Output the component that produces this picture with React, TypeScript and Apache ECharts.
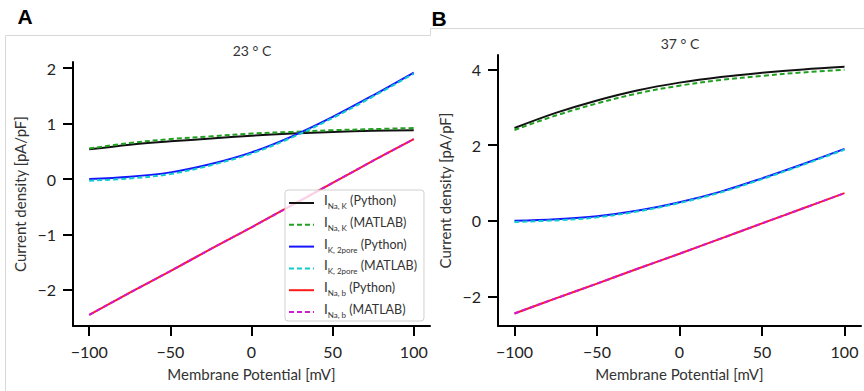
import React, { useEffect, useRef } from "react";
import * as echarts from "echarts";

// Membrane potential sample points [mV]
const xs = [-100, -75, -50, -25, 0, 25, 50, 75, 100];

// Panel A (23 °C)
const naKPyA = [0.535, 0.62, 0.68, 0.73, 0.78, 0.82, 0.85, 0.87, 0.88];
const naKMatA = [0.55, 0.65, 0.72, 0.77, 0.82, 0.85, 0.88, 0.9, 0.92];
const k2pPyA = [0.0, 0.04, 0.12, 0.27, 0.48, 0.77, 1.12, 1.51, 1.92];
const k2pMatA = [-0.03, 0.01, 0.09, 0.25, 0.46, 0.75, 1.1, 1.49, 1.9];
const nabPyA = [-2.45, -2.05, -1.66, -1.26, -0.87, -0.47, -0.07, 0.33, 0.72];
const nabMatA = [-2.45, -2.05, -1.66, -1.26, -0.87, -0.47, -0.07, 0.33, 0.72];

// Panel B (37 °C)
const naKPyB = [2.45, 2.85, 3.18, 3.45, 3.65, 3.8, 3.91, 4.0, 4.07];
const naKMatB = [2.4, 2.78, 3.1, 3.37, 3.57, 3.72, 3.83, 3.92, 3.99];
const k2pPyB = [0.0, 0.04, 0.12, 0.27, 0.49, 0.77, 1.12, 1.5, 1.9];
const k2pMatB = [-0.03, 0.01, 0.09, 0.25, 0.47, 0.75, 1.1, 1.48, 1.88];
const nabPyB = [-2.45, -2.05, -1.66, -1.26, -0.87, -0.47, -0.07, 0.33, 0.73];
const nabMatB = [-2.45, -2.05, -1.66, -1.26, -0.87, -0.47, -0.07, 0.33, 0.73];

// Ticks
const xTicks = [-100, -50, 0, 50, 100];
const yTicksA = [-2, -1, 0, 1, 2];
const yTicksB = [-2, 0, 2, 4];

// Legend entries
const seriesNames = [
  "INaK (Python)",
  "INaK (MATLAB)",
  "IK2pore (Python)",
  "IK2pore (MATLAB)",
  "INab (Python)",
  "INab (MATLAB)",
];
const legendSubs = ["Na, K", "Na, K", "K, 2pore", "K, 2pore", "Na, b", "Na, b"];
const legendSuffix = ["(Python)", "(MATLAB)", "(Python)", "(MATLAB)", "(Python)", "(MATLAB)"];

const colors = ["#111111", "#22a022", "#1515ff", "#10cccc", "#ff1a1a", "#d019d0"];
const dashed = [false, true, false, true, false, true];

const FONT = "Lato, 'Noto Sans', sans-serif";

function buildOption() {
  const dataA = [naKPyA, naKMatA, k2pPyA, k2pMatA, nabPyA, nabMatA];
  const dataB = [naKPyB, naKMatB, k2pPyB, k2pMatB, nabPyB, nabMatB];
  const mk = (vals: number[], i: number, ax: number) => ({
    type: "line",
    name: seriesNames[i],
    xAxisIndex: ax,
    yAxisIndex: ax,
    data: xs.map((x, k) => [x, vals[k]]),
    symbol: "none",
    smooth: 0.35,
    lineStyle: { color: colors[i], width: 2, type: dashed[i] ? [5, 3] : "solid" },
    itemStyle: { color: colors[i] },
    emphasis: { disabled: true },
  });
  const series = [
    ...dataA.map((v, i) => mk(v, i, 0)),
    ...dataB.map((v, i) => mk(v, i, 1)),
  ];

  const axisCommon = {
    type: "value",
    splitLine: { show: false },
    axisLine: { show: true, onZero: false, lineStyle: { color: "#000", width: 2 } },
    axisTick: { show: true, length: 10, lineStyle: { color: "#000", width: 2 } },
    nameTextStyle: { fontFamily: FONT, fontSize: 15, color: "#333" },
  };
  const xAx = (gi: number) => ({
    ...axisCommon,
    gridIndex: gi,
    min: -110,
    max: 110,
    name: "Membrane Potential [mV]",
    nameLocation: "middle",
    nameGap: 40,
    axisTick: { ...axisCommon.axisTick, customValues: xTicks },
    axisLabel: {
      customValues: xTicks,
      fontFamily: FONT,
      fontSize: 16,
      color: "#222",
      margin: 17,
      formatter: (v: number) => (v < 0 ? "\u2212" + Math.abs(v) : String(v)),
    },
  });
  const yAx = (gi: number, min: number, max: number, ticks: number[]) => ({
    ...axisCommon,
    gridIndex: gi,
    min,
    max,
    name: "Current density [pA/pF]",
    nameLocation: "middle",
    nameGap: 46,
    axisTick: { ...axisCommon.axisTick, customValues: ticks },
    axisLabel: {
      customValues: ticks,
      fontFamily: FONT,
      fontSize: 16,
      color: "#222",
      margin: 17,
      formatter: (v: number) => (v < 0 ? "\u2212" + Math.abs(v) : String(v)),
    },
  });

  return {
    animation: false,
    backgroundColor: "#fff",
    grid: [
      { left: 73, top: 62, width: 357, height: 264 },
      { left: 498, top: 55, width: 363, height: 271 },
    ],
    xAxis: [xAx(0), xAx(1)],
    yAxis: [yAx(0, -2.65, 2.11, yTicksA), yAx(1, -2.78, 4.38, yTicksB)],
    legend: {
      show: true,
      data: seriesNames,
      orient: "vertical",
      left: 285,
      top: 190,
      itemWidth: 25,
      itemHeight: 14,
      itemGap: 4.8,
      padding: [3, 7, 2, 3],
      backgroundColor: "rgba(255,255,255,0.8)",
      borderColor: "#d0d0d0",
      borderWidth: 1,
      borderRadius: 3,
      selectedMode: false,
      itemStyle: { color: "rgba(0,0,0,0)", borderWidth: 0, opacity: 0 },
      formatter: (name: string) => {
        const i = seriesNames.indexOf(name);
        return `{i|I}{s|${legendSubs[i]}}{t| ${legendSuffix[i]}}`;
      },
      textStyle: {
        fontFamily: FONT,
        color: "#333",
        padding: [0, 0, 0, 5],
        rich: {
          i: { fontFamily: FONT, fontSize: 13.5, color: "#333", verticalAlign: "bottom", lineHeight: 14, padding: [0, 0, 3, 0] },
          s: { fontFamily: FONT, fontSize: 8, color: "#333", verticalAlign: "bottom", lineHeight: 10 },
          t: { fontFamily: FONT, fontSize: 12.5, color: "#333", verticalAlign: "bottom", lineHeight: 14, padding: [0, 0, 3, 0] },
        },
      },
    },
    graphic: [
      {
        type: "polyline",
        shape: { points: [[5.5, 391], [5.5, 35.5], [430.5, 35.5], [430.5, 28.5], [864, 28.5]] },
        style: { stroke: "#d8d8d8", lineWidth: 1, fill: null },
        silent: true,
      },
      {
        type: "text",
        x: 25,
        y: 16,
        style: { text: "A", fontFamily: "'Liberation Sans', Arial, sans-serif", fontWeight: "bold", fontSize: 21, fill: "#000", align: "center", verticalAlign: "middle", textAlign: "center", textVerticalAlign: "middle" },
      },
      {
        type: "text",
        x: 439,
        y: 18,
        style: { text: "B", fontFamily: "'Liberation Sans', Arial, sans-serif", fontWeight: "bold", fontSize: 21, fill: "#000", align: "center", verticalAlign: "middle", textAlign: "center", textVerticalAlign: "middle" },
      },
      {
        type: "text",
        x: 252,
        y: 50.5,
        style: { text: "23 \u00b0 C", fontFamily: FONT, fontSize: 14, fill: "#333", align: "center", verticalAlign: "middle", textAlign: "center", textVerticalAlign: "middle" },
      },
      {
        type: "text",
        x: 680,
        y: 43,
        style: { text: "37 \u00b0 C", fontFamily: FONT, fontSize: 14, fill: "#333", align: "center", verticalAlign: "middle", textAlign: "center", textVerticalAlign: "middle" },
      },
    ],
    series,
  };
}

export default function App() {
  const ref = useRef<HTMLDivElement>(null);
  useEffect(() => {
    if (!ref.current) return;
    const chart = echarts.init(ref.current, null, { renderer: "svg" });
    chart.setOption(buildOption() as any);
    return () => chart.dispose();
  }, []);
  return (
    <div
      ref={ref}
      style={{ position: "fixed", left: 0, top: 0, width: 864, height: 391, background: "#fff" }}
    />
  );
}
